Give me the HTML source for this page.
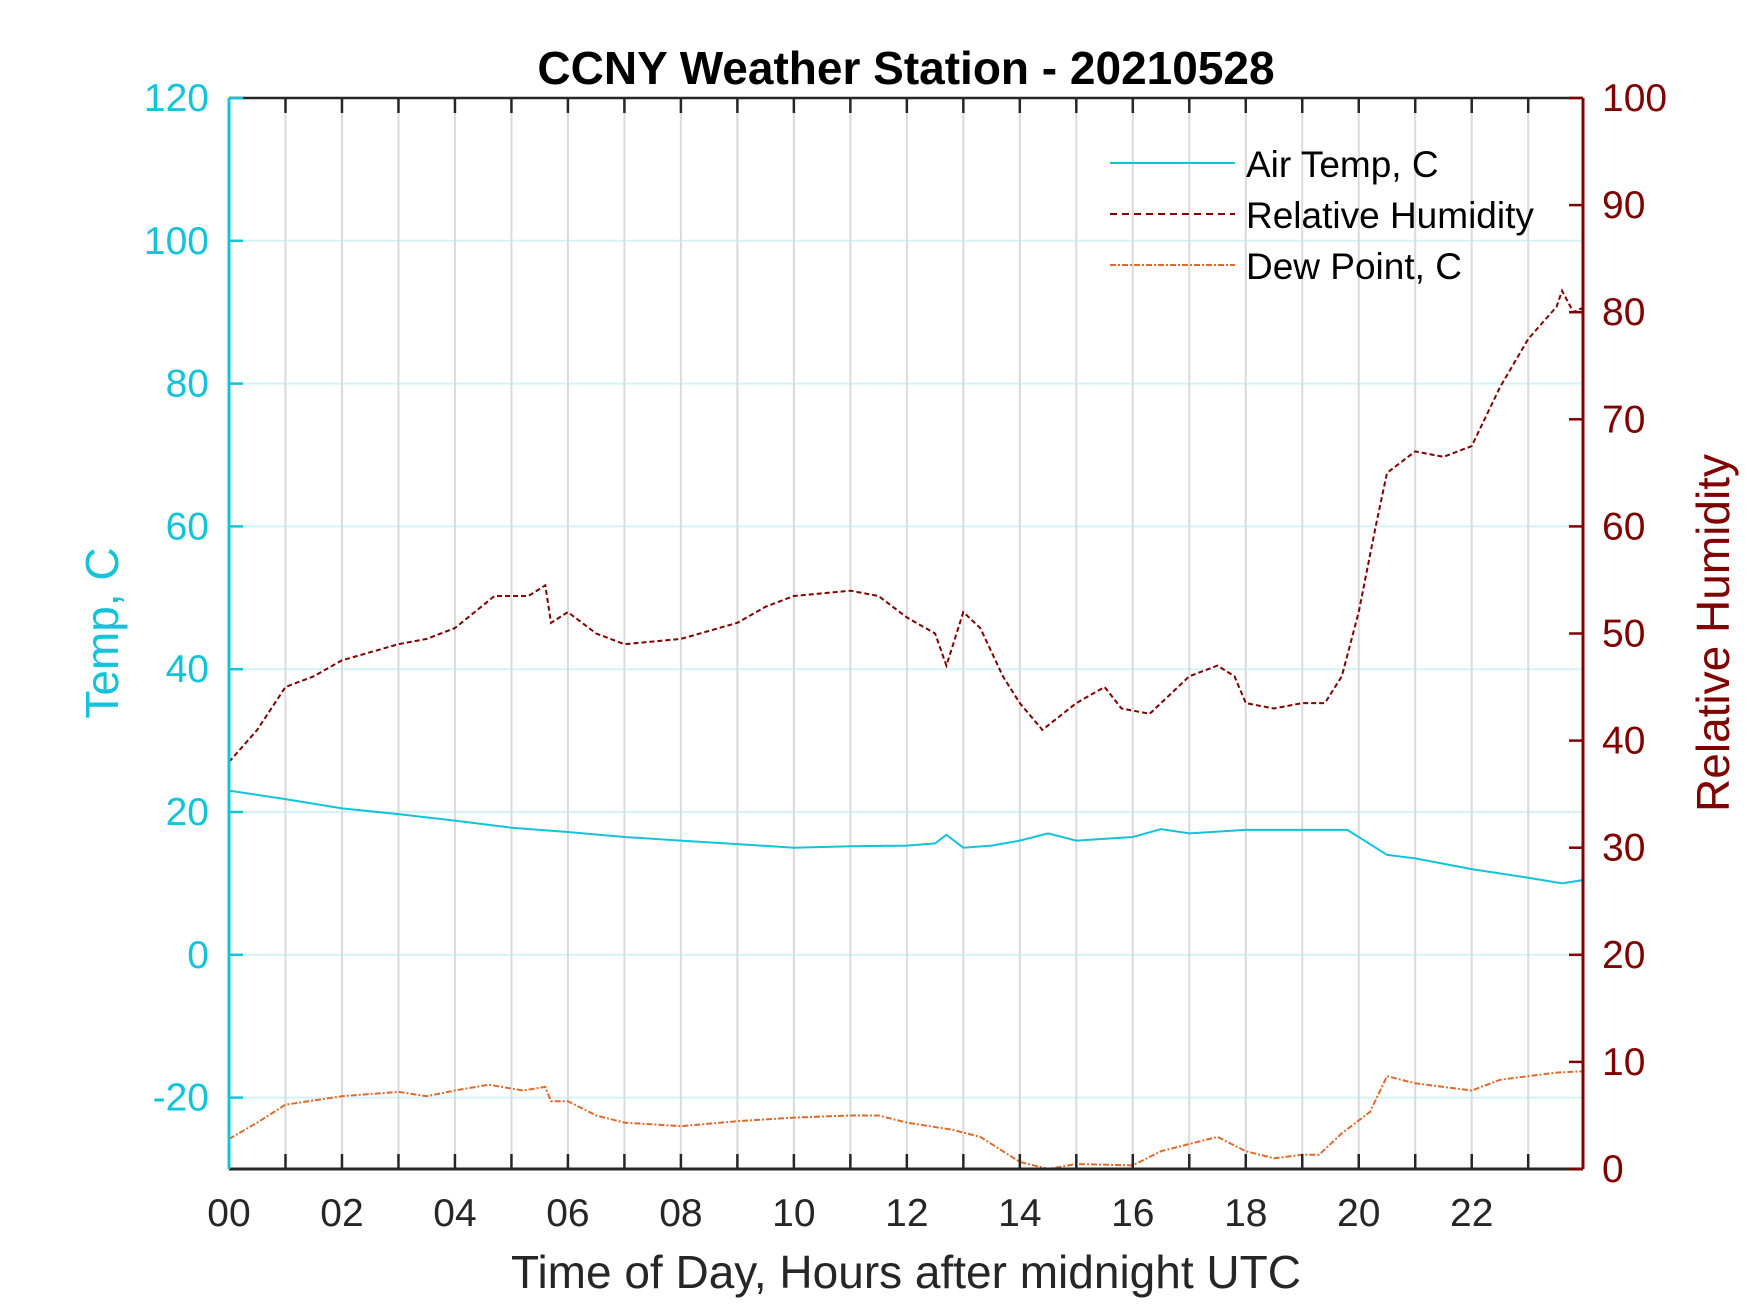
<!DOCTYPE html>
<html><head><meta charset="utf-8"><style>
html,body{margin:0;padding:0;background:#fff;}
svg{display:block;font-family:"Liberation Sans",sans-serif;}
</style></head><body>
<svg id="chart" width="1750" height="1313" viewBox="0 0 1750 1313" xmlns="http://www.w3.org/2000/svg">
<rect width="1750" height="1313" fill="#fff"/>
<g id="grid"></g>
<g id="series"></g>
<g id="axes"></g>
<text x="906" y="84" text-anchor="middle" font-size="46" font-weight="bold" fill="#000">CCNY Weather Station - 20210528</text>
<text x="906" y="1288" text-anchor="middle" font-size="46" fill="#262626">Time of Day, Hours after midnight UTC</text>
<text transform="translate(118,633) rotate(-90)" text-anchor="middle" font-size="46" fill="#13c3da">Temp, C</text>
<text transform="translate(1729,633) rotate(-90)" text-anchor="middle" font-size="46" fill="#800000">Relative Humidity</text>
<g>
  <line x1="1110" y1="163" x2="1235" y2="163" stroke="#13c3da" stroke-width="2"/>
  <text x="1246" y="177" font-size="37" fill="#000">Air Temp, C</text>
  <line x1="1110" y1="214" x2="1235" y2="214" stroke="#800000" stroke-width="2" stroke-dasharray="7,5"/>
  <text x="1246" y="228" font-size="37" fill="#000">Relative Humidity</text>
  <line x1="1110" y1="265" x2="1235" y2="265" stroke="#e06a2c" stroke-width="2" stroke-dasharray="6,2,2,2"/>
  <text x="1246" y="279" font-size="37" fill="#000">Dew Point, C</text>
</g>
</svg>
<script>
const tempHours = [0,1,2,3,4,5,6,7,8,9,10,11,12,12.5,12.7,13,13.5,14,14.5,15,16,16.5,17,18,19,19.8,20.5,21,22,23,23.6,24];
const tempValues = [23,21.8,20.5,19.7,18.8,17.8,17.2,16.5,16,15.5,15,15.2,15.3,15.6,16.8,15,15.3,16,17,16,16.5,17.6,17,17.5,17.5,17.5,14,13.5,12,10.8,10,10.5];
const rhHours = [0,0.5,1,1.5,2,3,3.5,4,4.7,5.3,5.6,5.7,6,6.5,7,8,9,9.5,10,11,11.5,12,12.5,12.7,13,13.3,13.7,14,14.4,15,15.5,15.8,16.3,16.7,17,17.5,17.8,18,18.5,19,19.4,19.7,20,20.3,20.5,21,21.5,22,22.5,23,23.5,23.6,23.8,24];
const rhValues = [38,41,45,46,47.5,49,49.5,50.5,53.5,53.5,54.5,51,52,50,49,49.5,51,52.5,53.5,54,53.5,51.5,50,47,52,50.5,46,43.5,41,43.5,45,43,42.5,44.5,46,47,46,43.5,43,43.5,43.5,46,52,60,65,67,66.5,67.5,73,77.5,80.5,82,80,80.5];
const dewHours = [0,0.5,1,2,3,3.5,4,4.6,5.2,5.6,5.7,6,6.5,7,8,9,10,11,11.5,12,12.8,13.3,14,14.5,15,16,16.5,17,17.5,18,18.5,19,19.3,19.7,20.2,20.5,21,21.5,22,22.5,23,23.5,24];
const dewValues = [-25.8,-23.5,-21,-19.8,-19.2,-19.8,-19,-18.2,-19,-18.5,-20.5,-20.5,-22.5,-23.5,-24,-23.3,-22.8,-22.5,-22.5,-23.5,-24.5,-25.5,-29,-30,-29.3,-29.5,-27.5,-26.5,-25.5,-27.5,-28.5,-28,-28,-25,-22,-17,-18,-18.5,-19,-17.5,-17,-16.5,-16.3];
const xTickLabels = ["00","02","04","06","08","10","12","14","16","18","20","22"];
const leftTicks = [-20,0,20,40,60,80,100,120];
const rightTicks = [0,10,20,30,40,50,60,70,80,90,100];

const NS="http://www.w3.org/2000/svg";
const X0=229,X1=1583,Y0=98,Y1=1169,XMAX=23.97;
const xs=h=>X0+(X1-X0)*h/XMAX;
const yl=v=>Y1-(Y1-Y0)*(v+30)/150;
const yr=v=>Y1-(Y1-Y0)*v/100;
function mk(tag,attrs,parent){const e=document.createElementNS(NS,tag);for(const k in attrs)e.setAttribute(k,attrs[k]);parent.appendChild(e);return e;}
const grid=document.getElementById('grid'),axes=document.getElementById('axes'),series=document.getElementById('series');
leftTicks.forEach(v=>{const l=mk('line',{x1:X0,x2:X1,y1:yl(v),y2:yl(v),stroke:'#d5f3f7','stroke-width':2},grid);

});
for(let h=1;h<=23;h++){const x=xs(h);
const g=mk('line',{x1:x,x2:x,y1:Y0,y2:Y1,stroke:'#dadada','stroke-width':2},grid);


mk('line',{x1:x,x2:x,y1:Y1,y2:Y1-15,stroke:'#262626','stroke-width':2.5},axes);
mk('line',{x1:x,x2:x,y1:Y0,y2:Y0+15,stroke:'#262626','stroke-width':2.5},axes);}
xTickLabels.forEach((t,i)=>{const e=mk('text',{x:xs(i*2),y:1226,'text-anchor':'middle','font-size':39,fill:'#262626'},axes);e.textContent=t;

});
function path(hs,vs,f){return hs.map((h,i)=>(i?'L':'M')+xs(h).toFixed(1)+','+f(vs[i]).toFixed(1)).join('');}
const pr=mk('path',{d:path(rhHours,rhValues,yr),fill:'none',stroke:'#800000','stroke-width':2,'stroke-dasharray':'5,3'},series);


const pd=mk('path',{d:path(dewHours,dewValues,yl),fill:'none',stroke:'#e06a2c','stroke-width':2,'stroke-dasharray':'6,2,2,2'},series);


const pt=mk('path',{d:path(tempHours,tempValues,yl),fill:'none',stroke:'#13c3da','stroke-width':2},series);


mk('line',{x1:X0,x2:X1,y1:Y0,y2:Y0,stroke:'#262626','stroke-width':2.5},axes);
mk('line',{x1:X0,x2:X1,y1:Y1,y2:Y1,stroke:'#262626','stroke-width':3},axes);
mk('line',{x1:X0,x2:X0,y1:Y0,y2:Y1,stroke:'#13c3da','stroke-width':3},axes);
mk('line',{x1:X1,x2:X1,y1:Y0,y2:Y1,stroke:'#800000','stroke-width':3},axes);
leftTicks.forEach(v=>{mk('line',{x1:X0,x2:X0+14,y1:yl(v),y2:yl(v),stroke:'#13c3da','stroke-width':2.5},axes);
const e=mk('text',{x:209,y:yl(v)+13,'text-anchor':'end','font-size':39,fill:'#13c3da'},axes);e.textContent=v;

});
rightTicks.forEach(v=>{mk('line',{x1:X1-14,x2:X1,y1:yr(v),y2:yr(v),stroke:'#800000','stroke-width':2.5},axes);
const e=mk('text',{x:1602,y:yr(v)+13,'text-anchor':'start','font-size':39,fill:'#800000'},axes);e.textContent=v;

});
</script>
</body></html>
